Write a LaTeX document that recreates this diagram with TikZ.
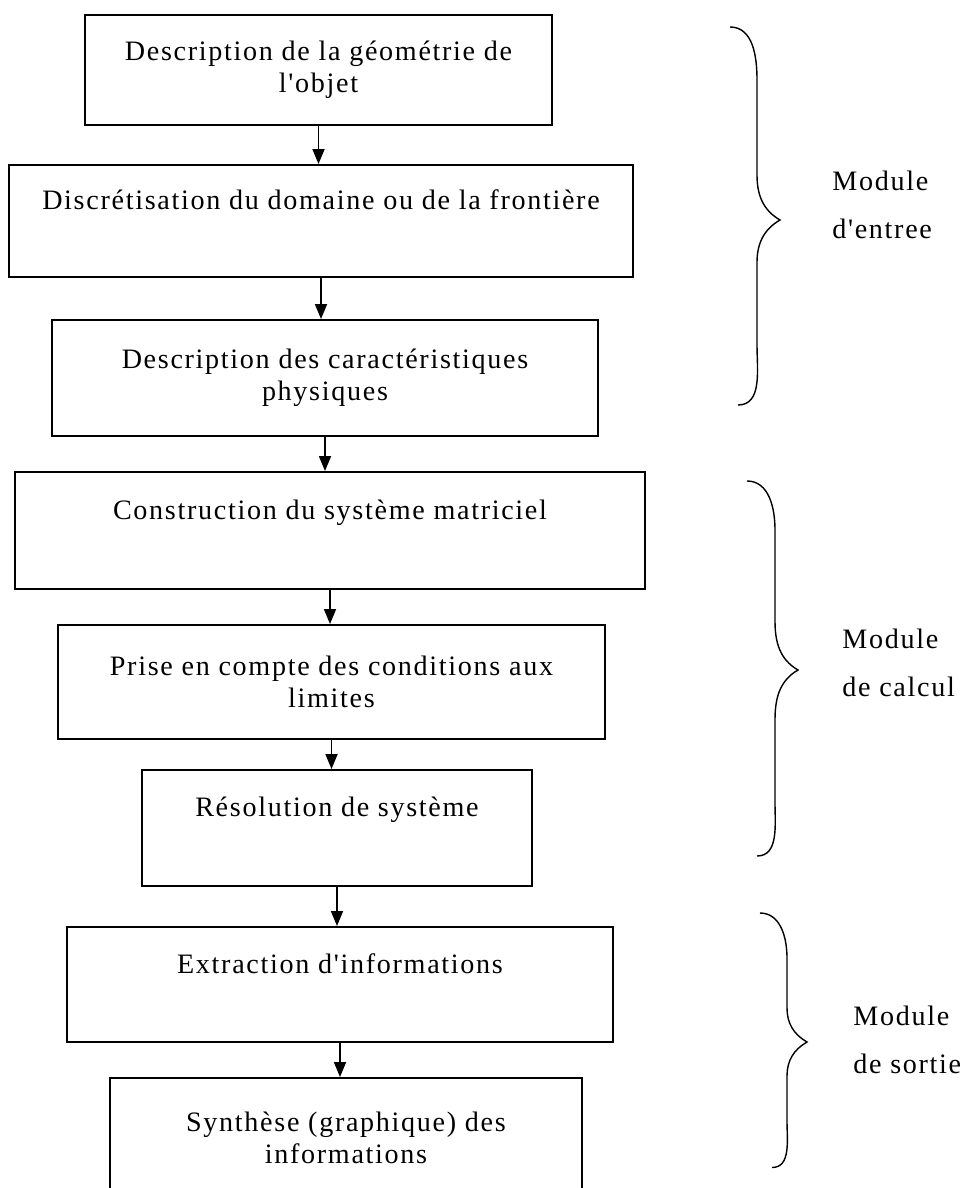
\documentclass[tikz,border=0pt]{standalone}
\usepackage{fontspec}
\setmainfont{Liberation Serif}[LetterSpace=6, Ligatures=TeXOff]
\usetikzlibrary{arrows.meta}

\tikzset{
    etape/.style={draw, line width=1.1pt, inner sep=0pt, align=center,
        font=\fontsize{16}{18}\selectfont},
    uneligne/.style={text height=0.45cm, text depth=0.9cm},
    fleche/.style={line width=1pt, -{Triangle[width=0.24cm, length=0.30cm]}},
    accolade/.style={line width=0.8pt},
    module/.style={anchor=west, align=left, inner sep=0pt,
        font=\fontsize{16}{27}\selectfont}
}

\begin{document}
\begin{tikzpicture}
    \useasboundingbox (0, 0) rectangle (19.44, -23.76);
    % les etapes
    \node[etape, minimum width=9.34cm, minimum height=2.20cm] (geom) at (6.37, -1.40)
        {Description de la géométrie de\\l'objet};
    \node[etape, uneligne, minimum width=12.48cm, minimum height=2.24cm] (discr) at (6.42, -4.42)
        {Discrétisation du domaine ou de la frontière};
    \node[etape, minimum width=10.92cm, minimum height=2.32cm] (phys) at (6.50, -7.56)
        {Description des caractéristiques\\physiques};
    \node[etape, uneligne, minimum width=12.60cm, minimum height=2.34cm] (matrice) at (6.60, -10.61)
        {Construction du système matriciel};
    \node[etape, minimum width=10.94cm, minimum height=2.28cm] (limites) at (6.63, -13.64)
        {Prise en compte des conditions aux\\limites};
    \node[etape, uneligne, minimum width=7.80cm, minimum height=2.32cm] (resol) at (6.74, -16.56)
        {Résolution de système};
    \node[etape, uneligne, minimum width=10.92cm, minimum height=2.30cm] (extr) at (6.80, -19.69)
        {Extraction d'informations};
    \node[etape, minimum width=9.44cm, minimum height=2.40cm] (synth) at (6.92, -22.76)
        {Synthèse (graphique) des\\informations};

    \foreach \a/\b in {geom/discr, discr/phys, phys/matrice, matrice/limites,
                       limites/resol, resol/extr, extr/synth} {
        \draw[fleche] (\a.south) -- (\a.south |- \b.north);
    }

    % accolades et modules
    \draw[accolade] (14.60, -0.54) to[out=0, in=90] (15.14, -1.60) -- (15.14, -3.50)
        to[out=-90, in=150] (15.60, -4.40) to[out=210, in=90] (15.14, -5.25)
        -- (15.14, -6.90) to[out=-90, in=0] (14.76, -8.10);
    \node[module] (entree) at (16.64, -4.10) {Module\\d'entree};

    \draw[accolade] (14.94, -9.62) to[out=0, in=90] (15.50, -10.60) -- (15.50, -12.42)
        to[out=-90, in=150] (15.96, -13.40) to[out=210, in=90] (15.50, -14.40)
        -- (15.50, -16.06) to[out=-90, in=0] (15.14, -17.12);
    \node[module] (calcul) at (16.84, -13.26) {Module\\de calcul};

    \draw[accolade] (15.20, -18.26) to[out=0, in=90] (15.74, -19.16) -- (15.74, -20.16)
        to[out=-90, in=150] (16.14, -20.84) to[out=210, in=90] (15.74, -21.52)
        -- (15.74, -22.42) to[out=-90, in=0] (15.44, -23.35);
    \node[module] (sortie) at (17.06, -20.80) {Module\\de sortie};
\end{tikzpicture}
\end{document}
